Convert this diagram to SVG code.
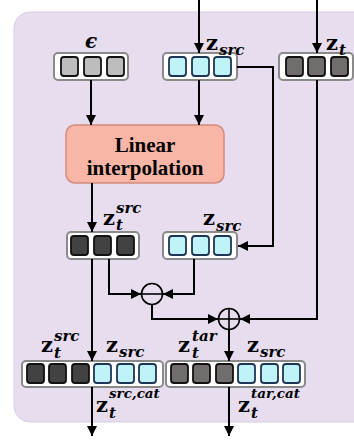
<svg xmlns="http://www.w3.org/2000/svg" width="354" height="440" viewBox="0 0 354 440">
<defs>
<marker id="ah" viewBox="0 0 10 10" refX="10" refY="5" markerWidth="10" markerHeight="11" markerUnits="userSpaceOnUse" orient="auto">
<path d="M0,0 L10,5 L0,10 z" fill="#000"/>
</marker>
<style>
.box{fill:#fff;stroke:#8a8a8a;stroke-width:2}
.sq{stroke-width:1.8}
.gy{fill:#bdbdbd;stroke:#111}
.cy{fill:#bff3f7;stroke:#1e3556}
.dk{fill:#424242;stroke:#111}
.md{fill:#726d6d;stroke:#111}
.ln{fill:none;stroke:#000;stroke-width:2;marker-end:url(#ah)}
.op{fill:none;stroke:#000;stroke-width:1.6}
.z{font-family:"DejaVu Serif",serif;font-weight:bold;font-size:21px;fill:#000}
.s{font-family:"DejaVu Serif",serif;font-weight:bold;font-style:italic;font-size:15px;fill:#000}
.s2{font-family:"DejaVu Serif",serif;font-weight:bold;font-style:italic;font-size:13.5px;fill:#000}
.lbl{font-family:"Liberation Serif",serif;font-weight:bold;font-size:21px;fill:#000}
</style>
</defs>
<rect x="14" y="12" width="360" height="410" rx="16" fill="#e7ddef" stroke="#d6cde2" stroke-width="1"/>

<g id="eps">
<rect class="box" x="54" y="53" width="74" height="27" rx="4"/>
<rect class="sq gy" x="61" y="57" width="17" height="19" rx="3"/>
<rect class="sq gy" x="84" y="57" width="17" height="19" rx="3"/>
<rect class="sq gy" x="107" y="57" width="17" height="19" rx="3"/>
<text x="85" y="48" font-family="DejaVu Serif, serif" font-weight="bold" font-style="italic" font-size="20">ϵ</text>
</g>

<g id="zsrc">
<rect class="box" x="163" y="53" width="74" height="27" rx="4"/>
<rect class="sq cy" x="169" y="57" width="17" height="19" rx="3"/>
<rect class="sq cy" x="192" y="57" width="17" height="19" rx="3"/>
<rect class="sq cy" x="214" y="57" width="17" height="19" rx="3"/>
<text class="z" x="206" y="50">z</text><text class="s" x="219" y="55">src</text>
</g>

<g id="zt">
<rect class="box" x="279" y="53" width="74" height="27" rx="4"/>
<rect class="sq md" x="286" y="57" width="17" height="19" rx="3"/>
<rect class="sq md" x="308" y="57" width="17" height="19" rx="3"/>
<rect class="sq md" x="331" y="57" width="17" height="19" rx="3"/>
<text class="z" x="326" y="50">z</text><text class="s" x="339" y="55">t</text>
</g>

<g id="interp">
<rect x="66" y="125" width="158" height="58" rx="9" fill="#f9b6a6" stroke="#d38a7c" stroke-width="1.5"/>
<text class="lbl" x="145" y="152" text-anchor="middle">Linear</text>
<text class="lbl" x="145" y="175" text-anchor="middle">interpolation</text>
</g>

<g id="ztsrc">
<rect class="box" x="67" y="232" width="72" height="27" rx="4"/>
<rect class="sq dk" x="71" y="236" width="17" height="19" rx="3"/>
<rect class="sq dk" x="94" y="236" width="17" height="19" rx="3"/>
<rect class="sq dk" x="117" y="236" width="17" height="19" rx="3"/>
<text class="z" x="103" y="225">z</text><text class="s" x="116" y="213">src</text><text class="s" x="116" y="230">t</text>
</g>

<g id="zsrc2">
<rect class="box" x="163" y="232" width="74" height="27" rx="4"/>
<rect class="sq cy" x="169" y="236" width="17" height="19" rx="3"/>
<rect class="sq cy" x="192" y="236" width="17" height="19" rx="3"/>
<rect class="sq cy" x="214" y="236" width="17" height="19" rx="3"/>
<text class="z" x="203" y="225">z</text><text class="s" x="216" y="231">src</text>
</g>

<g id="minus">
<circle class="op" cx="152" cy="294" r="10.5"/>
<line class="op" x1="141.5" y1="294" x2="162.5" y2="294"/>
</g>

<g id="plus">
<circle class="op" cx="229" cy="319" r="10.5"/>
<line class="op" x1="218.5" y1="319" x2="239.5" y2="319"/>
<line class="op" x1="229" y1="308.5" x2="229" y2="329.5"/>
</g>

<g id="cat1">
<rect class="box" x="22" y="361" width="141" height="26" rx="4"/>
<rect class="sq dk" x="27" y="364" width="17" height="19" rx="3"/>
<rect class="sq dk" x="49" y="364" width="17" height="19" rx="3"/>
<rect class="sq dk" x="72" y="364" width="17" height="19" rx="3"/>
<rect class="sq cy" x="94" y="364" width="17" height="19" rx="3"/>
<rect class="sq cy" x="117" y="364" width="17" height="19" rx="3"/>
<rect class="sq cy" x="139" y="364" width="17" height="19" rx="3"/>
<text class="z" x="41" y="352">z</text><text class="s" x="54" y="341">src</text><text class="s" x="54" y="358">t</text>
<text class="z" x="106" y="352">z</text><text class="s" x="119" y="357">src</text>
<text class="z" x="96" y="412">z</text><text class="s2" x="109" y="398">src,cat</text><text class="s" x="109" y="418">t</text>
</g>

<g id="cat2">
<rect class="box" x="166" y="361" width="139" height="26" rx="4"/>
<rect class="sq md" x="171" y="364" width="17" height="19" rx="3"/>
<rect class="sq md" x="193" y="364" width="17" height="19" rx="3"/>
<rect class="sq md" x="216" y="364" width="17" height="19" rx="3"/>
<rect class="sq cy" x="238" y="364" width="17" height="19" rx="3"/>
<rect class="sq cy" x="261" y="364" width="17" height="19" rx="3"/>
<rect class="sq cy" x="283" y="364" width="17" height="19" rx="3"/>
<text class="z" x="178" y="352">z</text><text class="s" x="192" y="341">tar</text><text class="s" x="192" y="358">t</text>
<text class="z" x="247" y="352">z</text><text class="s" x="260" y="357">src</text>
<text class="z" x="238" y="412">z</text><text class="s2" x="251" y="398">tar,cat</text><text class="s" x="251" y="418">t</text>
</g>

<g id="connectors">
<path class="ln" d="M199,0 V53"/>
<path class="ln" d="M317,0 V53"/>
<path class="ln" d="M91,80 V125"/>
<path class="ln" d="M199,80 V125"/>
<path class="ln" d="M237,67 H273 V246 H238"/>
<path class="ln" d="M317,80 V319 H240"/>
<path class="ln" d="M92,183 V232"/>
<path class="ln" d="M92,259 V361"/>
<path class="ln" d="M109,259 V294 H141"/>
<path class="ln" d="M194,259 V294 H163"/>
<path class="ln" d="M152,304.5 V319 H218"/>
<path class="ln" d="M229,329.5 V361"/>
<path class="ln" d="M92,387 V436"/>
<path class="ln" d="M229,387 V436"/>
</g>
</svg>
